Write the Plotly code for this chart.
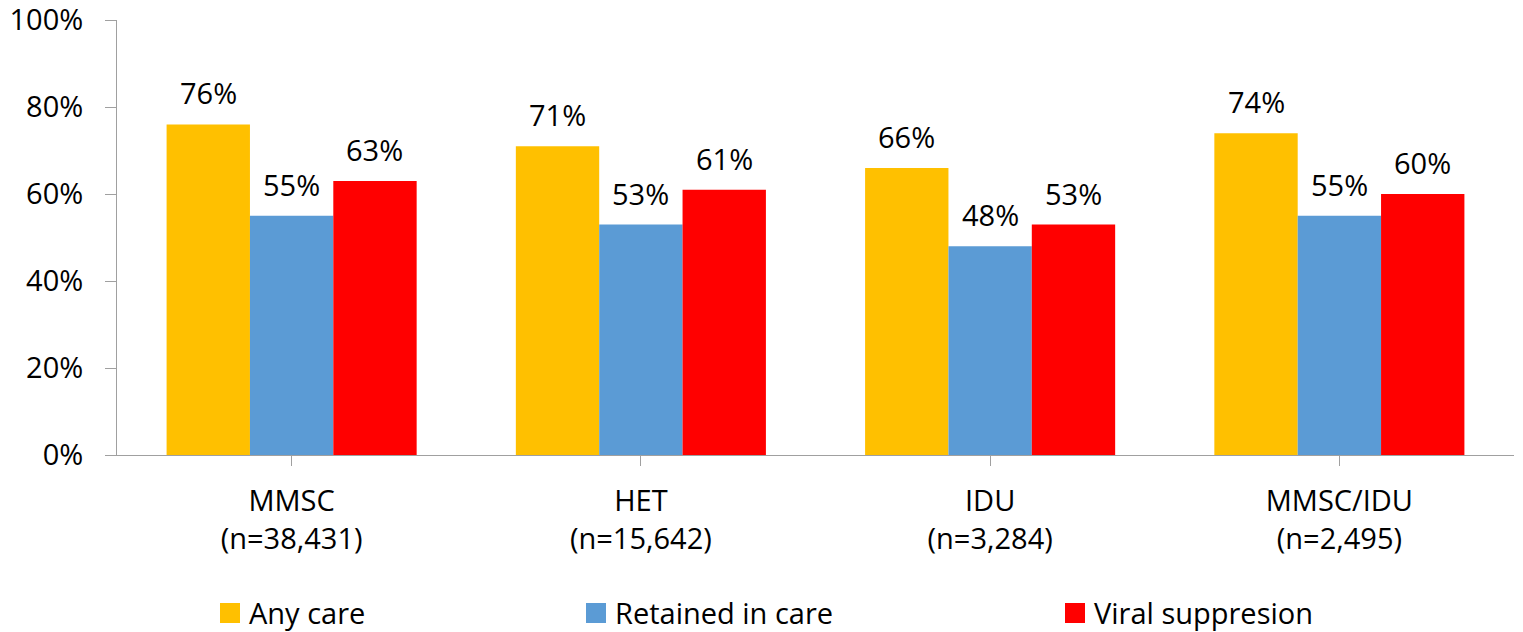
import plotly.graph_objects as go

# Data
categories = ["MMSC<br>(n=38,431)", "HET<br>(n=15,642)", "IDU<br>(n=3,284)", "MMSC/IDU<br>(n=2,495)"]
series_names = ["Any care", "Retained in care", "Viral suppresion"]
any_care = [76, 71, 66, 74]
retained_in_care = [55, 53, 48, 55]
viral_suppression = [63, 61, 53, 60]
y_ticks = [0, 20, 40, 60, 80, 100]
y_tick_labels = ["0%", "20%", "40%", "60%", "80%", "100%"]

series_values = [any_care, retained_in_care, viral_suppression]
colors = ["#FFC000", "#5B9BD5", "#FF0000"]

W, H = 1523, 632
M_L, M_R, M_T, M_B = 117, 9, 20, 177
PLOT_W = W - M_L - M_R
PLOT_H = H - M_T - M_B
BARGAP = 0.284
FONT = "Open Sans"
FS = 29
AXIS_COLOR = "#A0A0A0"


def px_x(x):
    return (x - M_L) / PLOT_W


def px_y(y):
    return (H - M_B - y) / PLOT_H


fig = go.Figure()
for name, vals, col in zip(series_names, series_values, colors):
    fig.add_trace(go.Bar(
        x=list(range(len(categories))), y=vals, name=name,
        marker=dict(color=col, line=dict(width=0)),
        showlegend=False,
    ))

# Value labels above each bar
n_series = len(series_values)
bar_w = (1 - BARGAP) / n_series
annotations = []
for j, vals in enumerate(series_values):
    for i, v in enumerate(vals):
        annotations.append(dict(
            x=i + (j - (n_series - 1) / 2) * bar_w, y=v,
            xref="x", yref="y", text=f"{v}%", showarrow=False,
            yanchor="bottom", xanchor="center", yshift=10,
            font=dict(family=FONT, size=FS, color="#000000"),
        ))

# Legend drawn as swatches and labels below the axis
shapes = []
legend_x = [220, 586, 1065]
for name, col, lx in zip(series_names, colors, legend_x):
    shapes.append(dict(
        type="rect", xref="paper", yref="paper",
        x0=px_x(lx), x1=px_x(lx + 20), y0=px_y(623), y1=px_y(603),
        fillcolor=col, line=dict(width=0),
    ))
    annotations.append(dict(
        x=px_x(lx + 27), y=px_y(612), xref="paper", yref="paper",
        text=name, showarrow=False, xanchor="left", yanchor="middle",
        font=dict(family=FONT, size=FS, color="#000000"),
    ))

fig.update_layout(
    width=W, height=H,
    margin=dict(l=M_L, r=M_R, t=M_T, b=M_B, autoexpand=False),
    paper_bgcolor="white", plot_bgcolor="white",
    barmode="group", bargap=BARGAP, bargroupgap=0,
    font=dict(family=FONT, size=FS, color="#000000"),
    annotations=annotations, shapes=shapes,
    showlegend=False,
)
fig.update_xaxes(
    tickmode="array", tickvals=list(range(len(categories))), ticktext=categories,
    range=[-0.5, len(categories) - 0.5], automargin=False,
    showline=True, linecolor=AXIS_COLOR, linewidth=1,
    ticks="outside", ticklen=10, tickcolor=AXIS_COLOR, tickwidth=1,
    showgrid=False, zeroline=False, ticklabelstandoff=10,
)
fig.update_yaxes(
    range=[0, 100.02], tickmode="array", tickvals=y_ticks, ticktext=y_tick_labels,
    automargin=False,
    showline=True, linecolor=AXIS_COLOR, linewidth=1,
    ticks="outside", ticklen=11, tickcolor=AXIS_COLOR, tickwidth=1,
    showgrid=False, zeroline=False, ticklabelstandoff=16,
    ticklabeloverflow="allow",
)

fig.write_html("out.html")
